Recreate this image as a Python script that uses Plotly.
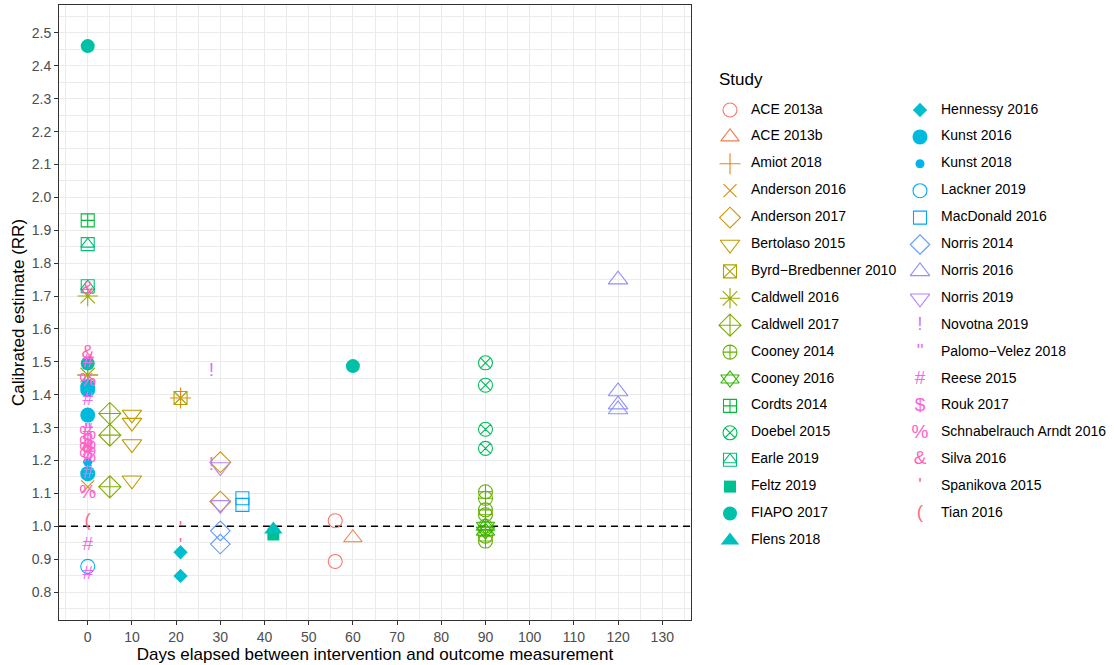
import math
import plotly.graph_objects as go

# ---------------- data ----------------
STUDIES = [
    "ACE 2013a", "ACE 2013b", "Amiot 2018", "Anderson 2016", "Anderson 2017",
    "Bertolaso 2015", "Byrd−Bredbenner 2010", "Caldwell 2016", "Caldwell 2017",
    "Cooney 2014", "Cooney 2016", "Cordts 2014", "Doebel 2015", "Earle 2019",
    "Feltz 2019", "FIAPO 2017", "Flens 2018", "Hennessy 2016", "Kunst 2016",
    "Kunst 2018", "Lackner 2019", "MacDonald 2016", "Norris 2014", "Norris 2016",
    "Norris 2019", "Novotna 2019", "Palomo−Velez 2018", "Reese 2015", "Rouk 2017",
    "Schnabelrauch Arndt 2016", "Silva 2016", "Spanikova 2015", "Tian 2016",
]

POINT_STUDY = (
    ["ACE 2013a"] * 2 + ["ACE 2013b"] + ["Amiot 2018"] * 2 + ["Anderson 2016"]
    + ["Anderson 2017"] * 2 + ["Bertolaso 2015"] * 4 + ["Byrd−Bredbenner 2010"]
    + ["Caldwell 2016"] * 2 + ["Caldwell 2017"] * 3 + ["Cooney 2014"] * 7
    + ["Cooney 2016"] * 2 + ["Cordts 2014"] + ["Doebel 2015"] * 4 + ["Earle 2019"] * 2
    + ["Feltz 2019"] + ["FIAPO 2017"] * 3 + ["Flens 2018"] + ["Hennessy 2016"] * 2
    + ["Kunst 2016"] * 4 + ["Kunst 2018"] + ["Lackner 2019"] + ["MacDonald 2016"] * 2
    + ["Norris 2014"] * 2 + ["Norris 2016"] * 4 + ["Norris 2019"] * 2
    + ["Novotna 2019"] * 2 + ["Palomo−Velez 2018"] + ["Reese 2015"] * 6
    + ["Rouk 2017"] * 2 + ["Schnabelrauch Arndt 2016"] * 6 + ["Silva 2016"] * 3
    + ["Spanikova 2015"] * 2 + ["Tian 2016"]
)

POINT_DAYS = (
    [56, 56] + [60] + [21, 0] + [0]
    + [30, 30] + [10, 10, 10, 10] + [21]
    + [0, 0] + [5, 5, 5] + [90] * 7
    + [90, 90] + [0] + [90] * 4 + [0, 0]
    + [42] + [0, 0, 60] + [42] + [21, 21]
    + [0, 0, 0, 0] + [0] + [0] + [35, 35]
    + [30, 30] + [120] * 4 + [30, 30]
    + [28, 28] + [0] + [0] * 6
    + [0, 0] + [0] * 6 + [0] * 3
    + [21, 21] + [0]
)

POINT_RR = (
    [1.017, 0.893] + [0.965] + [1.39, 1.46] + [1.12]
    + [1.195, 1.075] + [1.34, 1.315, 1.25, 1.14] + [1.39]
    + [1.70, 1.46] + [1.343, 1.277, 1.12] + [1.105, 1.085, 1.05, 1.035, 1.0, 0.97, 0.955]
    + [1.0, 0.985] + [1.93] + [1.497, 1.429, 1.295, 1.237] + [1.858, 1.73]
    + [0.975] + [2.46, 1.495, 1.487] + [0.99] + [0.921, 0.849]
    + [1.425, 1.415, 1.338, 1.16] + [1.195] + [0.878] + [1.085, 1.065]
    + [0.986, 0.946] + [1.75, 1.41, 1.37, 1.355] + [1.18, 1.065]
    + [1.47, 1.185] + [1.29] + [1.50, 1.383, 1.29, 1.16, 0.943, 0.855]
    + [1.26, 1.22] + [1.44, 1.28, 1.25, 1.23, 1.21, 1.10] + [1.72, 1.525, 1.24]
    + [0.99, 0.94] + [1.015]
)

X_TICKS = list(range(0, 131, 10))
Y_TICKS = [round(0.8 + 0.1 * i, 1) for i in range(18)]
X_LIMITS = (0, 130)
Y_LIMITS = (0.8, 2.5)
REF_RR = 1.0

X_TITLE = "Days elapsed between intervention and outcome measurement"
Y_TITLE = "Calibrated estimate (RR)"
LEGEND_TITLE = "Study"

# ---------------- styles ----------------
FONT = "Liberation Sans, Arial, Helvetica, sans-serif"

# ggplot shape equivalents: list of (plotly symbol, size) layers, or a text glyph
SHAPES = [
    [("circle-open", 14)], [("triangle-up-open", 16)], [("cross-thin-open", 15)],
    [("x-thin-open", 13)], [("diamond-open", 16)], [("triangle-down-open", 17)],
    [("square-x-open", 13)], [("asterisk-open", 17)], [("diamond-cross-open", 17)],
    [("circle-cross-open", 14)], [("triangle-up-open", 16), ("triangle-down-open", 16)],
    [("square-cross-open", 13)], [("circle-x-open", 14)],
    [("square-open", 13), ("triangle-up-open", 12)],
    [("square", 12)], [("circle", 14)], [("triangle-up", 16)], [("diamond", 11)],
    [("circle", 15)], [("circle", 9)], [("circle-open", 14)], [("square-open", 13)],
    [("diamond-open", 15)], [("triangle-up-open", 17)], [("triangle-down-open", 17)],
    "!", '"', "#", "$", "%", "&", "'", "(",
]
GLYPH_SIZE = 19


def hcl_hex(h, c=100.0, l=65.0):
    hr = math.radians(h)
    U, V = c * math.cos(hr), c * math.sin(hr)
    Xn, Yn, Zn = 95.047, 100.0, 108.883
    Y = Yn * ((l + 16) / 116) ** 3
    t = Xn + 15 * Yn + 3 * Zn
    un, vn = 4 * Xn / t, 9 * Yn / t
    u, v = U / (13 * l) + un, V / (13 * l) + vn
    X = 9 * Y * u / (4 * v)
    Z = -X / 3 - 5 * Y + 3 * Y / v
    X, Y, Z = X / 100, Y / 100, Z / 100
    rgb = [3.240479 * X - 1.537150 * Y - 0.498535 * Z,
           -0.969256 * X + 1.875992 * Y + 0.041556 * Z,
           0.055648 * X - 0.204043 * Y + 1.057311 * Z]
    out = []
    for ch in rgb:
        ch = 12.92 * ch if ch <= 0.0031308 else 1.055 * ch ** (1 / 2.4) - 0.055
        out.append(int(round(min(1, max(0, ch)) * 255)))
    return "#%02X%02X%02X" % tuple(out)


n = len(STUDIES)
COLORS = [hcl_hex(15 + i * 360 / n) for i in range(n)]

W, H = 1114, 665
PANEL = dict(left=59, right=691, top=5, bottom=620)


def expand(lim):
    d = (lim[1] - lim[0]) * 0.05
    return [lim[0] - d, lim[1] + d]


fig = go.Figure()

# dashed reference line (drawn first so points sit on top, but above the grid)
fig.add_trace(go.Scatter(
    x=expand(X_LIMITS), y=[REF_RR, REF_RR], mode="lines",
    line=dict(color="#000000", width=1.4, dash="7px,5px"),
    xaxis="x", yaxis="y", showlegend=False, hoverinfo="skip", cliponaxis=True))


def add_marks(xs, ys, i, xa, ya):
    shape = SHAPES[i]
    col = COLORS[i]
    if isinstance(shape, str):
        fig.add_trace(go.Scatter(
            x=xs, y=ys, mode="text", text=[shape] * len(xs),
            textposition="middle center",
            textfont=dict(family=FONT, size=GLYPH_SIZE, color=col),
            xaxis=xa, yaxis=ya, showlegend=False, hoverinfo="skip"))
    else:
        for sym, size in shape:
            filled = not sym.endswith("-open")
            fig.add_trace(go.Scatter(
                x=xs, y=ys, mode="markers",
                marker=dict(symbol=sym, size=size, color=col,
                            line=dict(color=col, width=0 if filled else 1.1)),
                xaxis=xa, yaxis=ya, showlegend=False, hoverinfo="skip"))


# data points
for i, s in enumerate(STUDIES):
    idx = [k for k, ps in enumerate(POINT_STUDY) if ps == s]
    if not idx:
        continue
    add_marks([POINT_DAYS[k] for k in idx], [POINT_RR[k] for k in idx], i, "x", "y")

# custom legend (two columns, column-major) in a pixel-scaled helper subplot
LEG_X0, LEG_COLW, LEG_Y0, LEG_ROWH, PER_COL = 730, 190, 110, 26.9, 17
for i in range(n):
    kx = LEG_X0 + (i // PER_COL) * LEG_COLW
    ky = LEG_Y0 + (i % PER_COL) * LEG_ROWH
    add_marks([kx], [ky], i, "x2", "y2")
fig.add_trace(go.Scatter(
    x=[LEG_X0 + (i // PER_COL) * LEG_COLW + 21 for i in range(n)],
    y=[LEG_Y0 + (i % PER_COL) * LEG_ROWH for i in range(n)],
    mode="text", text=STUDIES, textposition="middle right",
    textfont=dict(family=FONT, size=14, color="#000000"),
    xaxis="x2", yaxis="y2", showlegend=False, hoverinfo="skip"))

axis_common = dict(
    showline=True, mirror=True, linecolor="#333333", linewidth=1,
    ticks="outside", ticklen=4, tickwidth=1, tickcolor="#333333",
    tickfont=dict(family=FONT, size=14, color="#4D4D4D"),
    showgrid=True, gridcolor="#EBEBEB", gridwidth=1.3,
    zeroline=False, automargin=False, fixedrange=True,
)

fig.update_layout(
    width=W, height=H,
    margin=dict(l=0, r=0, t=0, b=0),
    paper_bgcolor="white", plot_bgcolor="white",
    showlegend=False,
    font=dict(family=FONT),
    xaxis=dict(
        domain=[PANEL["left"] / W, PANEL["right"] / W],
        range=expand(X_LIMITS), tickmode="array", tickvals=X_TICKS,
        ticktext=[str(v) for v in X_TICKS],
        minor=dict(tick0=-5, dtick=10, showgrid=True, gridcolor="#EBEBEB",
                   gridwidth=0.7, ticks=""),
        title=dict(text=X_TITLE, font=dict(family=FONT, size=17, color="#000000"),
                   standoff=4),
        anchor="y", **axis_common),
    yaxis=dict(
        domain=[1 - PANEL["bottom"] / H, 1 - PANEL["top"] / H],
        range=expand(Y_LIMITS), tickmode="array", tickvals=Y_TICKS,
        ticktext=["%.1f" % v for v in Y_TICKS],
        minor=dict(tick0=0.75, dtick=0.1, showgrid=True, gridcolor="#EBEBEB",
                   gridwidth=0.7, ticks=""),
        title=dict(text=Y_TITLE, font=dict(family=FONT, size=17, color="#000000"),
                   standoff=2),
        anchor="x", **axis_common),
    xaxis2=dict(domain=[700 / W, 1], range=[700, W], visible=False,
                fixedrange=True, anchor="y2"),
    yaxis2=dict(domain=[0, 1], range=[H, 0], visible=False,
                fixedrange=True, anchor="x2"),
    annotations=[dict(text=LEGEND_TITLE, xref="x2", yref="y2", x=717, y=79,
                      xanchor="left", yanchor="middle", showarrow=False,
                      font=dict(family=FONT, size=17, color="#000000"))],
)

fig.write_html(
    "out.html",
    config={"displayModeBar": False},
    post_script="document.body.style.margin='0';document.body.style.overflow='hidden';",
)
